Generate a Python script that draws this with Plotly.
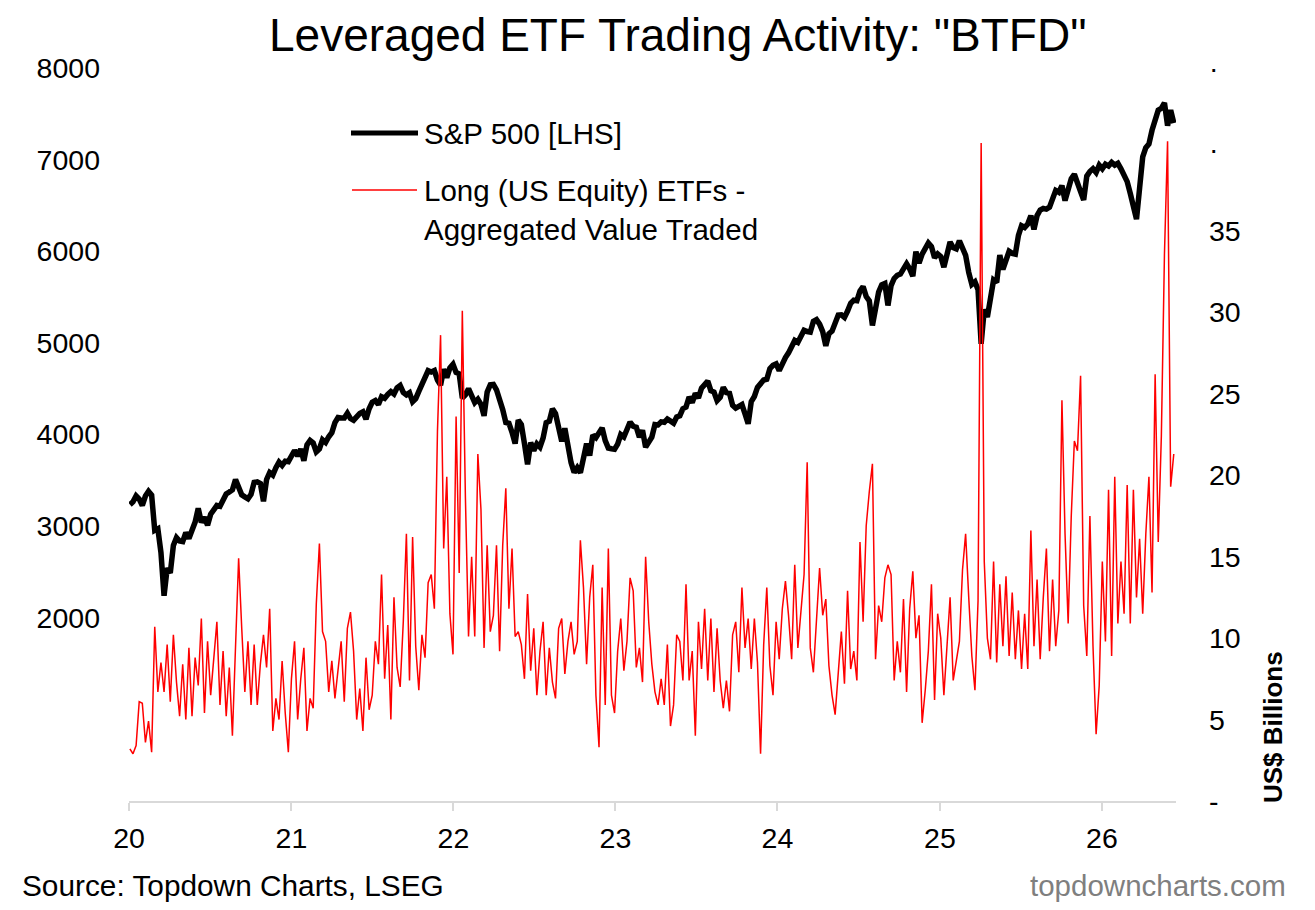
import pandas as pd
import plotly.graph_objects as go

# ---------------- data (weekly, Fridays from 2020-01-03) ----------------
start_date = "2020-01-03"

sp500_2020 = [3235, 3265, 3330, 3295, 3225, 3328, 3380, 3338, 2954, 2972, 2711, 2240, 2541,
              2489, 2790, 2875, 2837, 2831, 2930, 2864, 2955, 3044, 3194, 3041, 3098, 3009,
              3130, 3185, 3225, 3216, 3271, 3351, 3373, 3397, 3508, 3427, 3341, 3319, 3298,
              3348, 3477, 3484, 3465, 3270, 3509, 3585, 3558, 3638, 3699, 3663, 3709, 3703]
sp500_2021 = [3756, 3825, 3768, 3841, 3714, 3887, 3934, 3907, 3811, 3842, 3943, 3913, 3975,
              4020, 4129, 4185, 4180, 4181, 4233, 4174, 4156, 4204, 4230, 4247, 4166, 4281,
              4352, 4370, 4327, 4412, 4395, 4437, 4468, 4442, 4509, 4535, 4459, 4433, 4455,
              4357, 4391, 4471, 4545, 4605, 4697, 4683, 4698, 4595, 4538, 4712, 4621, 4726, 4766]
sp500_2022 = [4677, 4662, 4398, 4432, 4500, 4419, 4349, 4385, 4329, 4204, 4463, 4543, 4546,
              4488, 4393, 4272, 4132, 4123, 4024, 3901, 4158, 4109, 3901, 3675, 3912, 3825,
              3899, 3863, 3962, 4130, 4145, 4280, 4228, 4058, 3924, 4067, 3873, 3693, 3586,
              3639, 3583, 3752, 3901, 3771, 3993, 3965, 4026, 4072, 3934, 3852, 3845, 3840]
sp500_2023 = [3895, 3999, 3973, 4071, 4136, 4090, 4079, 3970, 4046, 3862, 3917, 3971, 4109,
              4105, 4138, 4133, 4169, 4136, 4124, 4192, 4205, 4282, 4299, 4410, 4348, 4450,
              4399, 4505, 4536, 4582, 4478, 4464, 4370, 4406, 4515, 4457, 4450, 4320, 4288,
              4308, 4327, 4224, 4117, 4358, 4415, 4514, 4559, 4595, 4604, 4719, 4755, 4770]
sp500_2024 = [4697, 4784, 4840, 4891, 4959, 5027, 5006, 5089, 5137, 5124, 5117, 5234, 5254,
              5204, 5123, 4967, 5100, 5128, 5223, 5303, 5305, 5278, 5347, 5432, 5465, 5460,
              5567, 5615, 5505, 5459, 5190, 5344, 5554, 5634, 5648, 5408, 5626, 5703, 5738,
              5751, 5815, 5864, 5808, 5729, 5995, 5870, 5969, 6032, 6090, 6051, 5930, 5971]
sp500_2025 = [5942, 5827, 5997, 6101, 6041, 6026, 6115, 6013, 5955, 5770, 5639, 5667, 5581,
              4990, 5363, 5283, 5525, 5686, 5660, 5958, 5803, 5912, 6000, 5977, 5968, 6173,
              6279, 6260, 6297, 6389, 6238, 6389, 6450, 6467, 6460, 6482, 6584, 6664, 6644,
              6716, 6553, 6664, 6792, 6840, 6728, 6650, 6560, 6820, 6870, 6900, 6860, 6940]
sp500_2026 = [6900, 6950, 6930, 6970, 6940, 6960, 6900, 6820, 6760, 6630, 6490, 6350,
              6690, 7030, 7130, 7170, 7320, 7460, 7540, 7560, 7620, 7370, 7540, 7400]

etf_2020 = [3.2, 2.9, 3.4, 6.1, 6.0, 3.6, 4.9, 3.0, 10.7, 6.7, 8.5, 6.7, 9.6, 6.1, 10.2, 7.3,
            5.2, 8.4, 5.0, 9.4, 5.2, 8.8, 7.1, 11.2, 5.4, 9.8, 6.5, 8.8, 11.0, 5.9, 9.2, 5.2,
            8.2, 4.0, 9.0, 14.9, 10.6, 6.7, 9.8, 5.9, 9.6, 5.9, 8.4, 10.2, 8.2, 11.8, 4.3, 6.3,
            5.0, 8.6, 5.4, 3.0]
etf_2021 = [7.5, 9.8, 5.0, 7.5, 9.4, 4.3, 6.3, 5.7, 12.1, 15.8, 10.4, 9.8, 6.7, 8.6, 6.3, 8.0,
            9.8, 6.1, 10.6, 11.6, 9.2, 5.0, 6.9, 4.3, 8.8, 5.6, 6.5, 9.8, 8.4, 13.9, 7.5, 10.8,
            5.0, 12.5, 8.2, 7.0, 11.0, 16.4, 7.4, 16.2, 9.5, 6.8, 10.2, 8.8, 13.4, 13.9, 11.8,
            22.7, 28.6, 15.5, 19.9, 11.5, 9.0]
etf_2022 = [23.6, 14.0, 30.1, 18.6, 10.1, 15.0, 10.1, 21.3, 17.9, 9.4, 15.7, 10.4, 11.4, 15.7,
            9.2, 15.7, 19.2, 11.8, 15.5, 10.1, 10.4, 9.6, 7.5, 12.7, 8.0, 10.6, 6.5, 9.2, 11.0,
            6.5, 9.4, 7.3, 6.3, 10.6, 11.2, 7.8, 9.8, 11.0, 9.0, 9.8, 16.0, 13.1, 8.4, 12.5,
            14.5, 6.5, 3.3, 13.1, 5.9, 15.5, 6.5, 5.4]
etf_2023 = [9.2, 11.2, 8.0, 9.8, 13.7, 12.9, 8.2, 9.4, 7.3, 15.0, 11.0, 8.4, 6.7, 5.9, 7.5, 5.9,
            9.6, 4.6, 5.9, 10.2, 9.8, 7.4, 13.3, 7.4, 9.2, 4.0, 11.0, 8.1, 11.8, 7.4, 11.2, 6.7,
            10.6, 7.4, 5.7, 7.4, 5.5, 10.2, 11.0, 7.9, 13.1, 9.4, 11.2, 8.1, 11.2, 8.5, 2.9, 9.6,
            13.1, 8.3, 6.5, 11.0]
etf_2024 = [8.7, 11.8, 13.5, 11.4, 8.7, 14.5, 9.4, 11.8, 13.9, 20.8, 9.4, 7.9, 11.4, 14.3, 11.4,
            12.4, 8.3, 6.5, 5.3, 7.9, 10.4, 7.2, 12.9, 8.1, 9.2, 7.4, 15.9, 11.0, 16.9, 19.0, 20.7,
            8.7, 12.0, 11.0, 13.7, 14.5, 13.9, 7.4, 9.8, 7.9, 12.4, 6.7, 11.8, 14.1, 10.0, 11.4,
            4.8, 6.8, 9.2, 13.3, 6.2, 11.5]
etf_2025 = [10.0, 6.5, 9.8, 12.5, 7.4, 8.5, 9.8, 14.2, 16.4, 12.5, 8.9, 6.8, 12.3, 40.4, 14.7,
            10.0, 8.7, 14.7, 8.5, 13.3, 9.5, 13.8, 8.9, 12.8, 8.7, 11.7, 8.1, 11.5, 8.1, 16.6, 9.5,
            13.6, 8.7, 12.5, 15.5, 9.2, 13.6, 9.5, 11.7, 24.6, 16.4, 10.9, 17.5, 22.1, 21.5, 26.1,
            12.0, 8.9, 17.5, 9.5, 4.1, 7.1]
etf_2026 = [14.7, 9.8, 19.1, 8.9, 19.9, 10.9, 14.7, 11.5, 19.4, 10.9, 19.1, 12.5, 16.1, 11.5,
            16.4, 19.9, 12.8, 26.2, 15.9, 22.4, 33.6, 40.5, 19.3, 21.3]

year_ticks = ["2020-01-01", "2021-01-01", "2022-01-01", "2023-01-01",
              "2024-01-01", "2025-01-01", "2026-01-01"]
year_labels = ["20", "21", "22", "23", "24", "25", "26"]
left_ticks = [2000, 3000, 4000, 5000, 6000, 7000, 8000]
right_ticks = [0, 5, 10, 15, 20, 25, 30, 35, 40, 45]
right_labels = ["-", "5", "10", "15", "20", "25", "30", "35", "·", "·"]

sp500 = sp500_2020 + sp500_2021 + sp500_2022 + sp500_2023 + sp500_2024 + sp500_2025 + sp500_2026
etf = etf_2020 + etf_2021 + etf_2022 + etf_2023 + etf_2024 + etf_2025 + etf_2026
sp_dates = pd.date_range(start_date, periods=len(sp500), freq="7D")
etf_dates = pd.date_range(start_date, periods=len(etf), freq="7D")

# ---------------- figure ----------------
# the page adds an 8px body margin, so the figure is 8px smaller and shifted
OFF = 8
W, H = 1315 - OFF, 910 - OFF
# plot area in screenshot coordinates
L, R, T, B = 129, 1176, 68, 801


def px(x):
    return (x - L) / (R - L)


def py(y):
    return (B - y) / (B - T)


FONT = "Liberation Sans, Arial, Helvetica, sans-serif"

fig = go.Figure()
fig.add_trace(go.Scatter(x=sp_dates, y=sp500, mode="lines", name="S&P 500 [LHS]",
                         line=dict(color="#000000", width=5.5), yaxis="y"))
fig.add_trace(go.Scatter(x=etf_dates, y=etf, mode="lines",
                         name="Long (US Equity) ETFs - Aggregated Value Traded",
                         line=dict(color="#ff0000", width=1.5), yaxis="y2"))

fig.update_layout(
    width=W, height=H,
    margin=dict(l=L - OFF, r=W - (R - OFF), t=T - OFF, b=H - (B - OFF), pad=0),
    paper_bgcolor="white", plot_bgcolor="white",
    showlegend=False,
    font=dict(family=FONT, size=28.5, color="#000000"),
    xaxis=dict(range=["2020-01-01", "2026-06-17"], tickvals=year_ticks, ticktext=year_labels,
               showgrid=False, zeroline=False, showline=True, linecolor="#d9d9d9", linewidth=1.5,
               ticks="outside", ticklen=8, tickwidth=1.5, tickcolor="#d9d9d9",
               ticklabelstandoff=3, tickfont=dict(size=28.5)),
    yaxis=dict(range=[0, 8000], tickvals=left_ticks, showgrid=False, zeroline=False,
               showline=False, ticks="", ticklabelstandoff=28, tickfont=dict(size=28.5)),
    yaxis2=dict(range=[0, 45], overlaying="y", side="right", tickvals=right_ticks,
                ticktext=right_labels, showgrid=False, zeroline=False, showline=False,
                ticks="", ticklabelstandoff=32, tickfont=dict(size=28.5)),
)

annotations = [
    dict(text='Leveraged ETF Trading Activity: "BTFD"', x=px(678), y=py(35),
         xanchor="center", yanchor="middle", font=dict(size=46)),
    dict(text="S&P 500 [LHS]", x=px(422), y=py(133), xanchor="left", yanchor="middle",
         font=dict(size=29.5)),
    dict(text="Long (US Equity) ETFs -", x=px(422), y=py(190), xanchor="left", yanchor="middle",
         font=dict(size=29.5)),
    dict(text="Aggregated Value Traded", x=px(422), y=py(229), xanchor="left", yanchor="middle",
         font=dict(size=29.5)),
    dict(text="Source: Topdown Charts, LSEG", x=px(20), y=py(885), xanchor="left",
         yanchor="middle", font=dict(size=29.8)),
    dict(text="topdowncharts.com", x=px(1288), y=py(885), xanchor="right", yanchor="middle",
         font=dict(size=29.5, color="#7f7f7f")),
    dict(text="<b>US$ Billions</b>", x=px(1273), y=py(727), xanchor="center", yanchor="middle",
         textangle=-90, font=dict(size=26)),
]
for a in annotations:
    a.update(xref="paper", yref="paper", showarrow=False)
fig.update_layout(annotations=annotations)

fig.update_layout(shapes=[
    dict(type="line", xref="paper", yref="paper", x0=px(351), x1=px(418), y0=py(133), y1=py(133),
         line=dict(color="#000000", width=5)),
    dict(type="line", xref="paper", yref="paper", x0=px(352), x1=px(417), y0=py(190), y1=py(190),
         line=dict(color="#ff0000", width=1.4)),
])

fig.write_html("out.html")
